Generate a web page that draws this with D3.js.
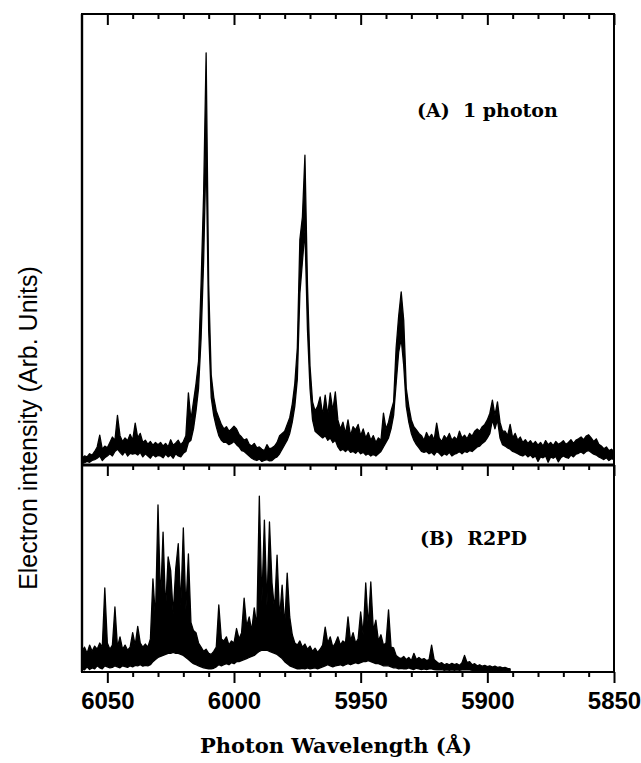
<!DOCTYPE html>
<html><head><meta charset="utf-8">
<script src="https://cdn.jsdelivr.net/npm/d3@7/dist/d3.min.js"></script>
<style>body{margin:0;background:#fff} svg{display:block}</style>
</head><body>
<svg id="c" width="641" height="763"></svg>
<script>
// ---------------- DATA ----------------
const waveStart = 6060;          // first sample (Å)
const waveStep = -1;             // Å per sample
const xDomain = [6060, 5850];
const majorTicks = [6050, 6000, 5950, 5900, 5850];
const minorTicks = [6040, 6030, 6020, 6010, 5990, 5980, 5970, 5960, 5940, 5930, 5920, 5910, 5890, 5880, 5870, 5860];
const xTitle = "Photon Wavelength (Å)";
const yTitle = "Electron intensity (Arb. Units)";
const labelA = "(A)  1 photon";
const labelB = "(B)  R2PD";

// (A) 1 photon: upper / lower edge of the noisy trace, 6060 -> 5850 Å
const onePhotonHi = [
  1.5, 2.0, 1.8, 2.5, 2.2, 3.0, 4.0, 6.6, 3.5, 4.2,
  3.8, 5.0, 6.2, 5.5, 11.0, 6.5, 5.2, 6.0, 5.4, 6.8,
  5.5, 9.3, 6.0, 7.0, 5.0, 5.5, 4.6, 5.2, 4.4, 5.0,
  4.5, 5.0, 4.2, 4.8, 4.0, 5.6, 4.4, 4.9, 5.5, 4.5,
  5.2, 6.5, 16, 10, 14, 18, 23, 40, 60, 91.4,
  40, 20, 15, 12, 10.5, 9.0, 8.0, 8.5, 7.5, 8.0,
  8.6, 8.0, 6.8, 6.2, 5.5, 5.8, 4.6, 4.2, 4.8, 3.8,
  4.0, 3.5, 3.2, 4.5, 3.6, 3.8, 4.2, 5.0, 6.5, 7.0,
  7.5, 9.0, 10.5, 13.5, 18, 26, 50, 55, 68.7, 40,
  22, 14, 12, 13, 15.1, 11, 15.5, 11, 16, 12,
  16.2, 10, 8, 9.5, 7.0, 10.0, 6.5, 8.5, 7.8, 9.0,
  6.5, 8.0, 6.0, 7.2, 5.5, 6.5, 5.0, 6.0, 5.5, 11.5,
  8.0, 9.5, 12, 14, 26, 33, 38.4, 32, 17, 13,
  10, 8.5, 7.8, 7.0, 6.5, 5.5, 7.2, 6.0, 6.8, 5.5,
  9.3, 6.0, 5.2, 6.5, 5.8, 7.0, 5.5, 6.2, 5.6, 7.5,
  6.0, 6.6, 5.8, 7.0, 6.4, 7.5, 8.0, 7.5, 8.5, 9.0,
  10.0, 11.5, 14.4, 11.0, 14.0, 9.5, 7.5, 7.5, 6.5, 9.0,
  6.0, 7.0, 5.5, 6.2, 5.0, 5.6, 4.8, 5.4, 4.6, 5.2,
  4.4, 5.0, 4.2, 5.4, 4.5, 5.0, 4.3, 5.2, 4.6, 4.9,
  5.4, 4.6, 5.0, 5.6, 4.8, 5.5, 5.8, 6.2, 5.6, 6.4,
  6.7, 6.0, 5.2, 5.8, 4.6, 4.2, 3.6, 4.0, 3.2, 3.5,
  3.0
];
const onePhotonLo = [
  0.3, 0.5, 0.8, 0.6, 1.0, 1.2, 1.5, 2.0, 1.0, 1.6,
  2.0, 2.5, 2.0, 3.0, 3.5, 2.8, 2.2, 3.0, 2.0, 2.6,
  2.4, 2.6, 2.2, 2.8, 1.8, 2.5, 2.0, 1.5, 2.3, 1.8,
  2.1, 2.0, 1.6, 2.4, 1.8, 2.2, 1.5, 2.5, 2.0, 1.8,
  2.6, 3.0, 5, 5.5, 8, 12, 17, 28, 45, 70,
  30, 15, 11, 8.5, 6.5, 5.5, 5.0, 5.0, 4.5, 4.8,
  5.2, 4.5, 4.0, 3.2, 3.0, 2.5, 2.0, 1.5, 1.2, 1.0,
  1.3, 0.8, 1.0, 1.2, 0.9, 1.0, 1.5, 1.8, 2.5, 3.5,
  4.5, 5.5, 7.0, 9.5, 13, 19, 38, 45, 52, 30,
  17, 10, 7.5, 7, 6.5, 6.0, 6.5, 5.5, 6.0, 5.0,
  5.5, 4.0, 3.2, 3.5, 3.0, 3.5, 2.8, 3.0, 2.6, 3.2,
  2.5, 2.8, 2.2, 2.5, 2.0, 2.4, 2.0, 2.5, 3.0, 4.0,
  5.0, 6.0, 8.0, 11, 18, 25, 28, 22, 13, 9.5,
  7, 5.5, 4.5, 3.8, 3.0, 2.8, 3.0, 2.5, 2.8, 2.2,
  3.0, 2.6, 2.0, 2.5, 2.2, 2.8, 2.0, 2.4, 2.6, 3.0,
  2.5, 3.0, 2.8, 3.2, 3.0, 3.5, 4.0, 4.2, 4.8, 5.2,
  6.0, 7.0, 10.0, 8.0, 10.0, 6.0, 4.5, 4.2, 3.8, 3.5,
  3.0, 2.8, 2.5, 2.2, 2.0, 2.4, 1.8, 2.2, 1.6, 2.0,
  0.8, 1.8, 1.6, 2.0, 0.6, 1.8, 1.5, 1.9, 0.7, 1.6,
  2.0, 1.7, 1.5, 2.2, 1.8, 2.4, 2.6, 2.9, 2.5, 3.0,
  3.2, 2.8, 2.4, 2.2, 1.8, 1.5, 1.2, 1.6, 1.0, 1.4,
  1.2
];
// (B) R2PD: upper / lower edge of the trace, 6060 -> 5891 Å
const r2pdHi = [
  10, 12, 9, 13, 10, 12.5, 11, 14, 12, 40.6,
  14, 11, 13, 31.4, 12, 17, 11, 13, 10.5, 12,
  19, 13, 22, 14, 12, 13.5, 12, 16, 45, 26,
  80.7, 34, 67.6, 30, 55.6, 49, 28, 50, 62, 32,
  69.6, 30, 57, 24, 20, 19, 14, 12, 10, 11,
  9, 8.5, 10, 12, 32.4, 16, 15, 17, 13, 15,
  14, 21, 16, 19, 35.7, 22, 26.6, 20, 31, 22,
  85, 34, 73.4, 32, 72.5, 43, 30, 56.5, 26, 42,
  22, 47.8, 26.6, 18, 14, 13, 15, 12, 13.5, 11,
  12.5, 10, 11.5, 9.5, 11, 13, 21.7, 14, 17, 12,
  14, 17, 13, 15, 14, 26.6, 15, 19, 14, 16,
  29, 18, 43, 22, 43.5, 20, 25, 15, 18, 13,
  14, 30, 12, 11.6, 8, 7, 6.5, 7.5, 6, 7,
  5.5, 9, 6, 7, 6, 6.5, 5.5, 6, 13, 6,
  5, 4, 4.5, 3.5, 4, 3.5, 4.2, 3.6, 4, 3.2,
  4.5, 8, 4.5, 5, 3.5, 4, 3, 3.5, 2.8, 3.2,
  2.6, 3, 2.4, 2.8, 2.2, 2.5, 2.0, 2.2, 1.8, 1.5
];
const r2pdLo = [
  1.5, 1.0, 2.5, 1.2, 2.0, 1.5, 3.0, 2.0, 1.5, 3.0,
  2.5, 2.0, 2.2, 3.0, 2.5, 2.0, 3.0, 2.6, 2.2, 3.0,
  2.5, 3.2, 3.0, 3.5, 2.8, 3.2, 3.0, 3.5, 5, 6,
  7, 7.5, 8, 8.5, 9, 9, 9.5, 9, 9, 8.5,
  8, 7, 6, 5, 4, 3.5, 3, 2.5, 2, 1.8,
  1.5, 1.5, 1.8, 2.5, 3.5, 3.0, 3.5, 4, 3.5, 4.5,
  4, 5, 5, 5.5, 6, 6.5, 7, 7.5, 8, 9,
  10, 10.5, 10.6, 10.5, 10, 9.5, 9, 8.5, 7.5, 6.5,
  5, 4, 3, 2.5, 2, 1.5, 1.5, 1.8, 1.5, 2,
  1.5, 1.8, 2, 1.5, 2, 2.5, 3, 3.5, 3, 2.5,
  3, 3.2, 3.5, 3, 3.5, 4, 3.5, 4, 4.5, 4,
  4.5, 5, 5, 5.5, 5, 4.5, 4, 4, 3.5, 3,
  3, 3, 2.5, 2, 2, 1.5, 1.8, 1.5, 1.5, 2,
  1.5, 1.2, 1.8, 1.5, 1.2, 1.5, 1.2, 1.5, 1.5, 1.2,
  1, 1, 1.2, 0.8, 1, 0.8, 1, 0.8, 1, 0.8,
  1, 1.2, 1, 1, 0.8, 0.8, 0.6, 0.8, 0.6, 0.6,
  0.5, 0.6, 0.5, 0.6, 0.5, 0.5, 0.5, 0.6, 0.5, 0.5
];

// ---------------- LAYOUT ----------------
const L = 82, R = 614, T = 14, M = 465, B = 672;
const ink = "#000";
const svg = d3.select("#c");

const x = d3.scaleLinear().domain(xDomain).range([L, R]);
const yA = d3.scaleLinear().domain([0, 100]).range([M, T]);
const yB = d3.scaleLinear().domain([0, 100]).range([B, M]);

function toRows(hi, lo) {
  return hi.map((h, i) => ({ w: waveStart + i * waveStep, hi: h, lo: lo[i] }));
}

function drawTrace(rows, y) {
  const area = d3.area().x(d => x(d.w)).y0(d => y(d.lo)).y1(d => y(d.hi));
  svg.append("path").datum(rows)
    .attr("d", area)
    .attr("fill", ink).attr("stroke", ink)
    .attr("stroke-width", 1.3).attr("stroke-linejoin", "round");
}

drawTrace(toRows(onePhotonHi, onePhotonLo), yA);
drawTrace(toRows(r2pdHi, r2pdLo), yB);

// frame
svg.append("rect").attr("x", L).attr("y", T).attr("width", R - L).attr("height", B - T)
  .attr("fill", "none").attr("stroke", ink).attr("stroke-width", 2);
svg.append("line").attr("x1", L).attr("x2", R).attr("y1", M).attr("y2", M)
  .attr("stroke", ink).attr("stroke-width", 3);
svg.append("line").attr("x1", L).attr("x2", L).attr("y1", T).attr("y2", B)
  .attr("stroke", ink).attr("stroke-width", 2.4);

// ticks on the three horizontal lines (all pointing down)
function tickRow(yPos, withLabels) {
  const gMin = svg.append("g").attr("transform", `translate(0,${yPos})`)
    .call(d3.axisBottom(x).tickValues(minorTicks).tickSize(5).tickFormat(""));
  gMin.select(".domain").remove();
  gMin.selectAll("line").attr("stroke", ink).attr("stroke-width", 2);
  const gMaj = svg.append("g").attr("transform", `translate(0,${yPos})`)
    .call(d3.axisBottom(x).tickValues(majorTicks).tickSize(11).tickPadding(9)
      .tickFormat(withLabels ? d3.format("d") : ""));
  gMaj.select(".domain").remove();
  gMaj.selectAll("line").attr("stroke", ink).attr("stroke-width", 2);
  gMaj.selectAll("text")
    .attr("fill", ink)
    .style("font-family", "'Liberation Sans', Arial, sans-serif")
    .style("font-weight", "bold").style("font-size", "24px");
}
tickRow(T, false);
tickRow(M, false);
tickRow(B, true);

// titles and labels
svg.append("text").attr("x", 336).attr("y", 753).attr("text-anchor", "middle")
  .style("font-family", "'DejaVu Serif', serif").style("font-weight", "bold")
  .style("font-size", "21px").attr("fill", ink).text(xTitle);

svg.append("text").attr("transform", "translate(37,428) rotate(-90)")
  .attr("text-anchor", "middle")
  .style("font-family", "'Liberation Sans', Arial, sans-serif")
  .style("font-size", "25px").attr("fill", ink).text(yTitle);

svg.append("text").attr("x", 417).attr("y", 117)
  .style("font-family", "'DejaVu Serif', serif").style("font-weight", "bold")
  .style("font-size", "19px").style("white-space", "pre").attr("fill", ink).text(labelA);

svg.append("text").attr("x", 420).attr("y", 545)
  .style("font-family", "'DejaVu Serif', serif").style("font-weight", "bold")
  .style("font-size", "19px").style("white-space", "pre").attr("fill", ink).text(labelB);
</script>
</body></html>
